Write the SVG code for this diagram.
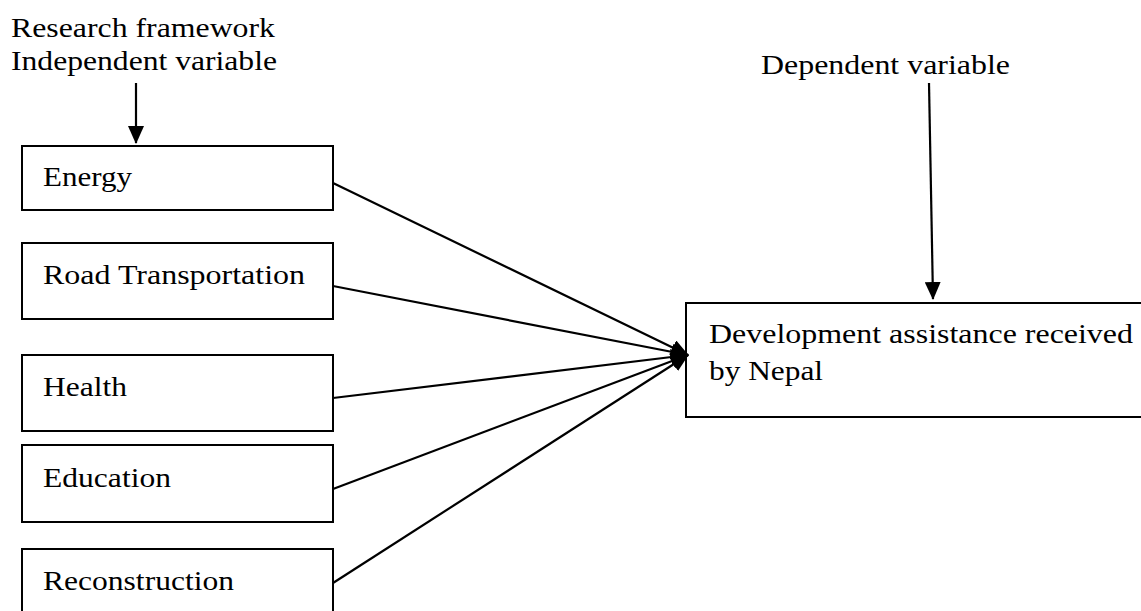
<svg xmlns="http://www.w3.org/2000/svg" width="1141" height="611" viewBox="0 0 1141 611">
  <style>
    .box { fill: #fff; stroke: #000; stroke-width: 2; }
    .t { font-family: 'Liberation Serif', 'Times New Roman', Times, Tinos, 'Nimbus Roman', 'Nimbus Roman No9 L', FreeSerif, serif; font-size: 27px; fill: #000; }
    .c { stroke: #000; stroke-width: 2.2; fill: none; marker-end: url(#ah); }
  </style>
  <defs>
    <marker id="ah" markerUnits="userSpaceOnUse" viewBox="0 0 18 16" markerWidth="18" markerHeight="16" refX="17" refY="8" orient="auto">
      <path d="M0,0 L18,8 L0,16 z" fill="#000"/>
    </marker>
  </defs>
  <rect width="1141" height="611" fill="#fff"/>

  <g id="labels">
    <text class="t" x="11" y="37" textLength="264" lengthAdjust="spacingAndGlyphs">Research framework</text>
    <text class="t" x="11" y="70" textLength="266" lengthAdjust="spacingAndGlyphs">Independent variable</text>
    <text class="t" x="761" y="74" textLength="249" lengthAdjust="spacingAndGlyphs">Dependent variable</text>
  </g>

  <g id="node-energy">
    <rect class="box" x="22" y="146" width="311" height="64"/>
    <text class="t" x="43" y="186" textLength="89" lengthAdjust="spacingAndGlyphs">Energy</text>
  </g>
  <g id="node-road">
    <rect class="box" x="22" y="243" width="311" height="76"/>
    <text class="t" x="43" y="284" textLength="262" lengthAdjust="spacingAndGlyphs">Road Transportation</text>
  </g>
  <g id="node-health">
    <rect class="box" x="22" y="355" width="311" height="76"/>
    <text class="t" x="43" y="396" textLength="84" lengthAdjust="spacingAndGlyphs">Health</text>
  </g>
  <g id="node-education">
    <rect class="box" x="22" y="445" width="311" height="77"/>
    <text class="t" x="43" y="487" textLength="128" lengthAdjust="spacingAndGlyphs">Education</text>
  </g>
  <g id="node-reconstruction">
    <rect class="box" x="22" y="549" width="311" height="80"/>
    <text class="t" x="43" y="590" textLength="191" lengthAdjust="spacingAndGlyphs">Reconstruction</text>
  </g>
  <g id="node-development">
    <rect class="box" x="686" y="303" width="470" height="114"/>
    <text class="t" x="709" y="343" textLength="424" lengthAdjust="spacingAndGlyphs">Development assistance received</text>
    <text class="t" x="709" y="380" textLength="114" lengthAdjust="spacingAndGlyphs">by Nepal</text>
  </g>

  <g id="connectors">
    <line class="c" x1="136" y1="83" x2="136" y2="143"/>
    <line class="c" x1="929" y1="83" x2="933" y2="299"/>
    <line class="c" x1="333" y1="183" x2="688" y2="355"/>
    <line class="c" x1="333" y1="286" x2="688" y2="355"/>
    <line class="c" x1="333" y1="398" x2="688" y2="355"/>
    <line class="c" x1="333" y1="489" x2="688" y2="355"/>
    <line class="c" x1="333" y1="583" x2="688" y2="355"/>
  </g>
</svg>
